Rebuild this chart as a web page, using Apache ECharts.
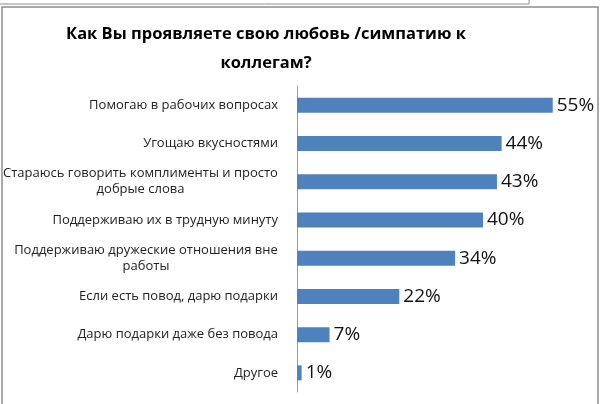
<!DOCTYPE html>
<html>
<head>
<meta charset="utf-8">
<script src="https://cdn.jsdelivr.net/npm/echarts@6/dist/echarts.min.js"></script>
<style>
  html, body { margin: 0; padding: 0; background: #fff; }
  #chart { width: 600px; height: 404px; }
</style>
</head>
<body>
<div id="chart"></div>
<script>
// data
const titleText = 'Как Вы проявляете свою любовь /симпатию к\nколлегам?';
const categories = [
  'Помогаю в рабочих вопросах',
  'Угощаю вкусностями',
  'Стараюсь говорить комплименты и просто\nдобрые слова',
  'Поддерживаю их в трудную минуту',
  'Поддерживаю дружеские отношения вне\nработы',
  'Если есть повод, дарю подарки',
  'Дарю подарки даже без повода',
  'Другое'
];
const values = [55, 44, 43, 40, 34, 22, 7, 1];

const labelFont = '13px "Open Sans"';

// multi-line labels are centred under their widest line
const ctx = document.createElement('canvas').getContext('2d');
ctx.font = labelFont;
const rich = {};
categories.forEach((c, i) => {
  const w = Math.max(...c.split('\n').map(s => ctx.measureText(s).width));
  rich['l' + i] = { width: Math.ceil(w), align: 'center', fontSize: 13, lineHeight: 16,
                    fontFamily: 'Open Sans', color: '#222' };
});

const chart = echarts.init(document.getElementById('chart'));

chart.setOption({
  animation: false,
  title: {
    text: titleText,
    left: 261,
    top: 15,
    textAlign: 'center',
    textStyle: { fontFamily: 'Open Sans', fontSize: 16.5, fontWeight: 'bold', color: '#000', lineHeight: 29 }
  },
  grid: { left: 297, top: 86, width: 279, height: 306, containLabel: false },
  xAxis: {
    type: 'value', min: 0, max: 60,
    show: false
  },
  yAxis: {
    type: 'category',
    data: categories,
    inverse: true,
    axisLine: { lineStyle: { color: '#9a9a9a', width: 1 } },
    axisTick: { show: false },
    axisLabel: {
      margin: 19,
      formatter: (v) => {
        const idx = categories.indexOf(v);
        return v.indexOf('\n') >= 0 ? '{l' + idx + '|' + v + '}' : v;
      },
      rich: rich,
      fontFamily: 'Open Sans', fontSize: 13, color: '#222', lineHeight: 16
    }
  },
  series: [{
    type: 'bar',
    data: values,
    barWidth: 15,
    itemStyle: { color: '#4f81bd' },
    label: {
      show: true, position: 'right', distance: 4,
      formatter: '{c}%',
      fontFamily: 'Open Sans', fontSize: 19, color: '#111'
    }
  }],
  graphic: [
    { type: 'rect', shape: { x: 2, y: 7, width: 596, height: 410 },
      style: { fill: 'none', stroke: '#8c8c8c', lineWidth: 1.5 } },
    { type: 'polyline', shape: { points: [[0, 4], [529, 4], [529, 0]] },
      style: { fill: 'none', stroke: '#8c8c8c', lineWidth: 1 } }
  ]
});
</script>
</body>
</html>
